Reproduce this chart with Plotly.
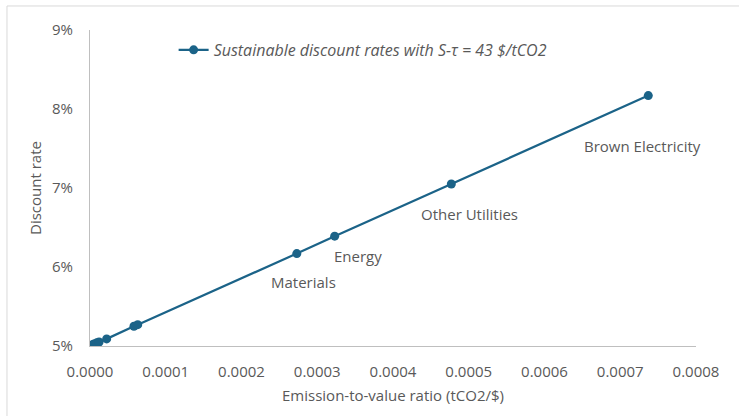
import plotly.graph_objects as go

# Emission-to-value ratio (tCO2/$)
ratio = [0.0000005, 0.000002, 0.000004, 0.000006, 0.000009, 0.000012, 0.000022,
         0.000058, 0.000063, 0.000273, 0.000323, 0.000477, 0.000737]
# Sustainable discount rate (fraction)
rate = [0.0500, 0.0501, 0.0502, 0.0503, 0.0504, 0.0505, 0.0509,
        0.0525, 0.0527, 0.0617, 0.0639, 0.0705, 0.0817]

label_names = ["Materials", "Energy", "Other Utilities", "Brown Electricity"]
label_idx = [9, 10, 11, 12]
label_shift = [(7, -28), (23, -20), (18, -30), (-6, -50)]

x_ticks = [0, 0.0001, 0.0002, 0.0003, 0.0004, 0.0005, 0.0006, 0.0007, 0.0008]
y_ticks = [0.05, 0.06, 0.07, 0.08, 0.09]

COLOR = "#1b6388"
GRAY = "#595959"
FONT = "Open Sans"

fig = go.Figure()
fig.add_trace(go.Scatter(
    x=ratio, y=rate, mode="lines+markers",
    name="Sustainable discount rates with S-τ = 43 $/tCO2",
    line=dict(color=COLOR, width=2.25),
    marker=dict(color=COLOR, size=9),
))

for name, i, (dx, dy) in zip(label_names, label_idx, label_shift):
    fig.add_annotation(x=ratio[i], y=rate[i], text=name, showarrow=False,
                       xshift=dx, yshift=dy,
                       font=dict(family=FONT, size=15, color=GRAY))

fig.add_shape(type="rect", xref="paper", yref="paper",
              x0=-0.137, x1=1.3, y0=-0.5, y1=1.076,
              line=dict(color="#d9d9d9", width=1), layer="below")

fig.update_layout(
    width=739, height=416,
    margin=dict(l=90, r=43, t=30, b=70),
    paper_bgcolor="white", plot_bgcolor="white",
    font=dict(family=FONT, size=15, color=GRAY),
    showlegend=True,
    legend=dict(x=0.138, y=0.937, xanchor="left", yanchor="middle",
                bgcolor="rgba(0,0,0,0)",
                font=dict(family=FONT, size=16, color=GRAY, style="italic")),
    xaxis=dict(range=[0, 0.0008], tickvals=x_ticks, tickformat=".4f",
               showgrid=False, zeroline=False, showline=True,
               linecolor="#bfbfbf", linewidth=1, ticks="",
               ticklabelstandoff=12,
               tickfont=dict(size=15, color=GRAY),
               title=dict(text="Emission-to-value ratio (tCO2/$)",
                          font=dict(size=15, color=GRAY), standoff=10)),
    yaxis=dict(range=[0.05, 0.09], tickvals=y_ticks, tickformat=".0%",
               showgrid=False, zeroline=False, showline=True,
               linecolor="#bfbfbf", linewidth=1, ticks="",
               ticklabelstandoff=13,
               tickfont=dict(size=15, color=GRAY),
               title=dict(text="Discount rate",
                          font=dict(size=15, color=GRAY), standoff=6)),
)

fig.write_html("out.html")
